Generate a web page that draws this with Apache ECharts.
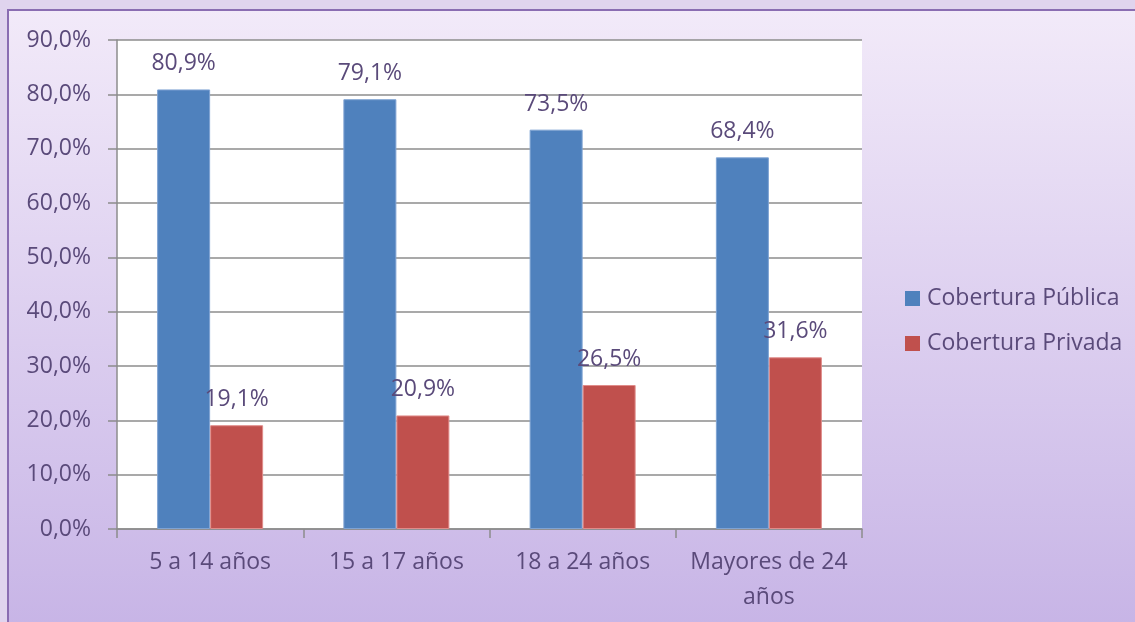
<!DOCTYPE html>
<html><head><meta charset="utf-8">
<script src="https://cdn.jsdelivr.net/npm/echarts@6/dist/echarts.min.js"></script>
<style>html,body{margin:0;padding:0;}#c{width:1135px;height:622px;}</style>
</head><body><div id="c"></div>
<script>
const categories = ['5 a 14 años', '15 a 17 años', '18 a 24 años', 'Mayores de 24\naños'];
const publica = [80.9, 79.1, 73.5, 68.4];
const privada = [19.1, 20.9, 26.5, 31.6];
const seriesNames = ['Cobertura Pública', 'Cobertura Privada'];

const txt = '#5a4a7a';
const fnt = '"Open Sans", "Noto Sans", sans-serif';
const fs = 23;
const fmt = v => v.toFixed(1).replace('.', ',') + '%';
const chart = echarts.init(document.getElementById('c'));
const label = {show: true, position: 'top', distance: 14, color: txt, fontSize: fs, fontFamily: fnt, formatter: p => fmt(p.value)};
chart.setOption({
  backgroundColor: '#e0d4ee',
  textStyle: {fontFamily: fnt},
  graphic: [{
    type: 'rect', z: -10, silent: true,
    shape: {x: 8, y: 10, width: 1140, height: 620},
    style: {
      fill: new echarts.graphic.LinearGradient(0, 0, 0, 1, [{offset: 0, color: '#f2eaf9'}, {offset: 1, color: '#c7b4e6'}]),
      stroke: '#8a6db2', lineWidth: 2
    }
  }],
  grid: {left: 117, right: 273, top: 40, bottom: 93, show: true, backgroundColor: '#ffffff', borderWidth: 0},
  legend: {
    orient: 'vertical', left: 900, top: 282, itemWidth: 15, itemHeight: 15, itemGap: 22,
    icon: 'rect', itemStyle: {borderWidth: 0},
    textStyle: {color: txt, fontSize: fs, fontFamily: fnt, padding: [0, 0, 0, 2]},
    data: seriesNames
  },
  xAxis: {
    type: 'category', data: categories,
    axisLine: {lineStyle: {color: '#8c8c8c', width: 1.5}},
    axisTick: {show: true, interval: 0, length: 9, lineStyle: {color: '#8c8c8c', width: 1.5}},
    axisLabel: {interval: 0, color: txt, fontSize: fs, fontFamily: fnt, margin: 16, lineHeight: 35}
  },
  yAxis: {
    type: 'value', min: 0, max: 90, interval: 10,
    axisLine: {show: true, lineStyle: {color: '#8c8c8c', width: 1.5}},
    axisTick: {show: true, length: 9, lineStyle: {color: '#8c8c8c', width: 1.5}},
    splitLine: {lineStyle: {color: '#8c8c8c', width: 1.5}},
    axisLabel: {color: txt, fontSize: fs, fontFamily: fnt, margin: 26, formatter: fmt}
  },
  series: [
    {name: seriesNames[0], type: 'bar', data: publica, barWidth: 53, barGap: '0%',
     itemStyle: {color: '#4f81bd', borderColor: '#7fa3d3', borderWidth: 1}, label: label},
    {name: seriesNames[1], type: 'bar', data: privada, barWidth: 53, barGap: '0%',
     itemStyle: {color: '#c0504d', borderColor: '#e08c8a', borderWidth: 1}, label: label}
  ]
});
</script></body></html>
